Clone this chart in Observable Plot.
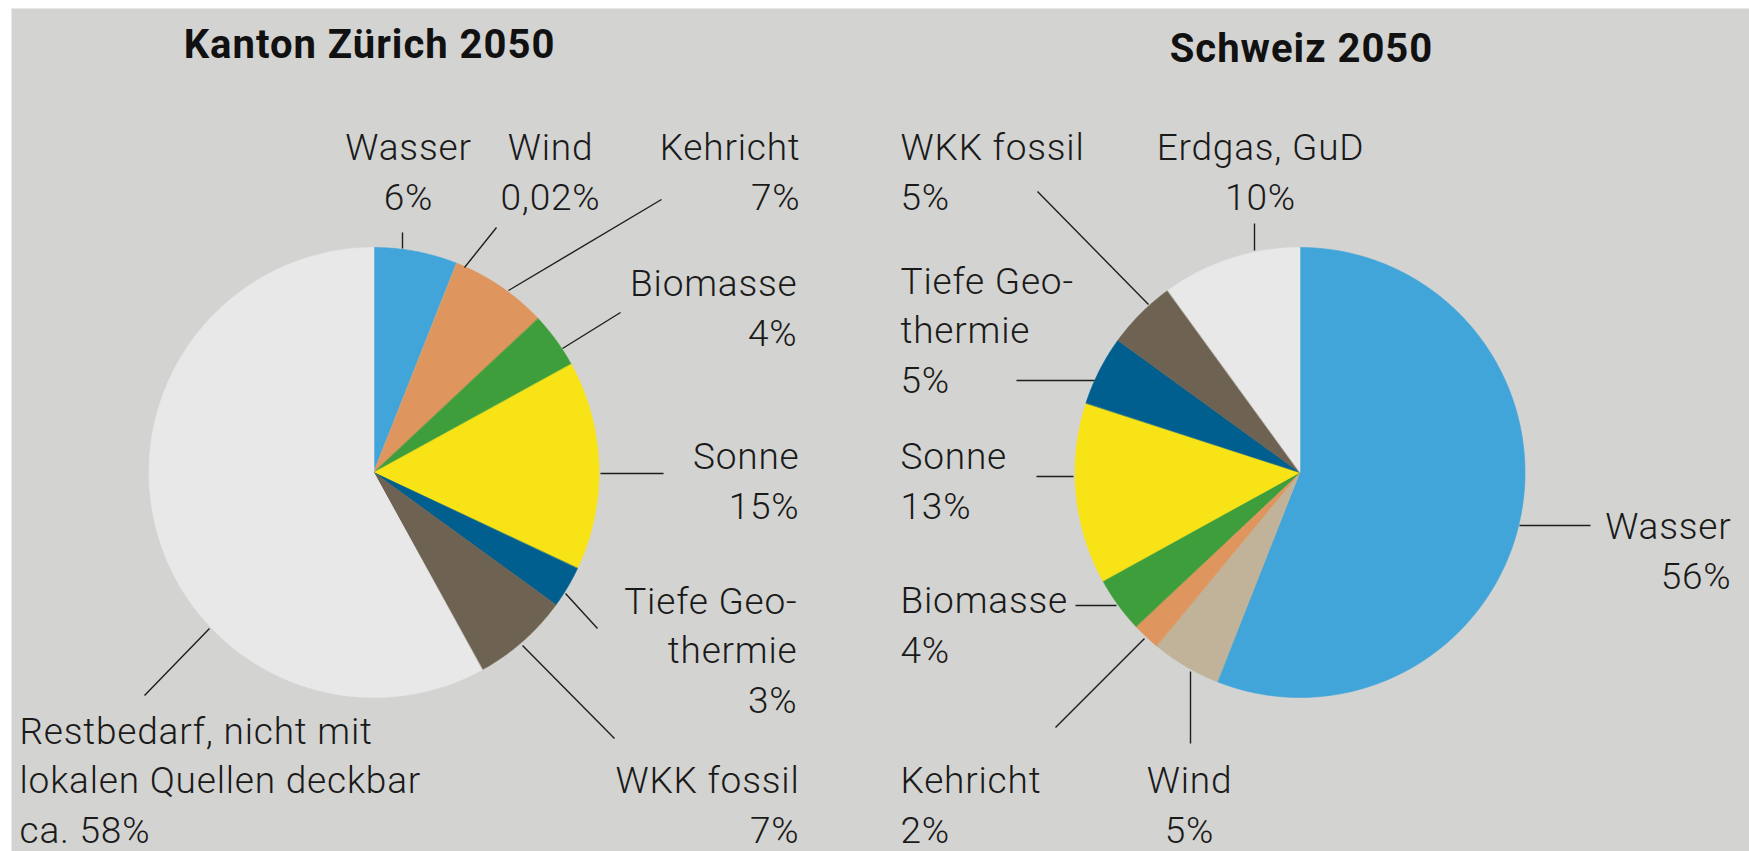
<!DOCTYPE html>
<html>
<head>
<meta charset="utf-8">
<script src="https://cdn.jsdelivr.net/npm/d3@7"></script>
<script src="https://cdn.jsdelivr.net/npm/@observablehq/plot@0.6"></script>
<style>
  html, body { margin: 0; padding: 0; background: #ffffff; }
  #chart svg { display: block; }
</style>
</head>
<body>
<div id="chart"></div>
<script>
// ---------- DATA ----------
const chartTitles = ["Kanton Zürich 2050", "Schweiz 2050"];

// Kanton Zürich 2050 (clockwise from 12 o'clock)
const zhSources = ["Wasser", "Wind", "Kehricht", "Biomasse", "Sonne", "Tiefe Geothermie", "WKK fossil", "Restbedarf"];
const zhValues  = [6, 0.02, 7, 4, 15, 3, 7, 58];
const zhNames   = ["Wasser", "Wind", "Kehricht", "Biomasse", "Sonne", "Tiefe Geo-\nthermie", "WKK fossil", "Restbedarf, nicht mit\nlokalen Quellen deckbar"];
const zhPrefix  = ["", "", "", "", "", "", "", "ca. "];

// Schweiz 2050 (clockwise from 12 o'clock)
const chSources = ["Wasser", "Wind", "Kehricht", "Biomasse", "Sonne", "Tiefe Geothermie", "WKK fossil", "Erdgas, GuD"];
const chValues  = [56, 5, 2, 4, 13, 5, 5, 10];
const chNames   = ["Wasser", "Wind", "Kehricht", "Biomasse", "Sonne", "Tiefe Geo-\nthermie", "WKK fossil", "Erdgas, GuD"];
const chPrefix  = ["", "", "", "", "", "", "", ""];

// colour per energy source
const colorDomain = ["Wasser", "Wind", "Kehricht", "Biomasse", "Sonne", "Tiefe Geothermie", "WKK fossil", "Restbedarf", "Erdgas, GuD"];
const colorRange  = ["#41a5da", "#c1b399", "#df965e", "#3d9e3b", "#f8e317", "#005f8f", "#6e6352", "#e8e8e8", "#e8e8e8"];

// ---------- LAYOUT (positions, in the chart's pixel-unit scale) ----------
const W = 1749, H = 851;
const pies = [
  {cx: 374, cy: 472.5, r: 225, titleX: 369, titleY: 57},
  {cx: 1300, cy: 472.5, r: 225, titleX: 1301, titleY: 61}
];
// label anchor, label x, baseline of last line, leader [x1,y1,x2,y2]
const zhLayout = [
  {anchor: "middle", x: 408, y: 209, leader: [402, 232, 402, 248]},
  {anchor: "middle", x: 550, y: 209, leader: [496, 227, 464, 267]},
  {anchor: "end",    x: 800, y: 209, leader: [661, 199, 508, 290]},
  {anchor: "end",    x: 797, y: 345, leader: [620, 312, 562, 348]},
  {anchor: "end",    x: 799, y: 518, leader: [600, 473, 663, 473]},
  {anchor: "end",    x: 797, y: 712, leader: [565, 593, 597, 628]},
  {anchor: "end",    x: 799, y: 842, leader: [522, 645, 614, 738]},
  {anchor: "start",  x: 19,  y: 842, leader: [209, 628, 144, 695]}
];
const chLayout = [
  {anchor: "end",    x: 1731, y: 588, leader: [1519, 525, 1590, 525]},
  {anchor: "middle", x: 1189, y: 842, leader: [1190, 671, 1190, 743]},
  {anchor: "start",  x: 900,  y: 842, leader: [1144, 638, 1055, 727]},
  {anchor: "start",  x: 900,  y: 662, leader: [1075, 605, 1116, 605]},
  {anchor: "start",  x: 900,  y: 518, leader: [1036, 476, 1073, 476]},
  {anchor: "start",  x: 900,  y: 392, leader: [1016, 380, 1094, 380]},
  {anchor: "start",  x: 900,  y: 209, leader: [1037, 191, 1148, 304]},
  {anchor: "middle", x: 1260, y: 209, leader: [1254, 223, 1254, 250]}
];

// ---------- BUILD TABLES ----------
const fmtPct = v => String(v).replace(".", ",") + "%";

function wedgeRows(pieId, sources, values, pie) {
  const total = d3.sum(values);
  const rows = [];
  let acc = 0;
  sources.forEach((s, i) => {
    const a0 = acc / total * 2 * Math.PI;
    acc += values[i];
    const a1 = acc / total * 2 * Math.PI;
    const n = Math.max(2, Math.ceil((a1 - a0) / (Math.PI / 360)));
    for (let k = 0; k <= n; k++) {
      const a = a0 + (a1 - a0) * k / n;
      rows.push({key: pieId + "-" + i, source: s, cx: pie.cx, cy: pie.cy,
                 x: pie.cx + pie.r * Math.sin(a), y: pie.cy - pie.r * Math.cos(a)});
    }
  });
  return rows;
}
function labelRows(names, prefix, values, layout) {
  return names.map((nm, i) => ({
    text: nm + "\n" + prefix[i] + fmtPct(values[i]),
    anchor: layout[i].anchor, x: layout[i].x, y: layout[i].y,
    x1: layout[i].leader[0], y1: layout[i].leader[1], x2: layout[i].leader[2], y2: layout[i].leader[3]
  }));
}

const slices = [...wedgeRows("zh", zhSources, zhValues, pies[0]), ...wedgeRows("ch", chSources, chValues, pies[1])];
const labels = [...labelRows(zhNames, zhPrefix, zhValues, zhLayout), ...labelRows(chNames, chPrefix, chValues, chLayout)];
const titles = chartTitles.map((t, i) => ({text: t, x: pies[i].titleX, y: pies[i].titleY}));

const FONT = "Roboto, 'Open Sans', sans-serif";
const LABEL_SIZE = 37;
const TITLE_SIZE = 40;
const textMark = anchor => Plot.text(labels.filter(d => d.anchor === anchor), {
  x: "x", y: "y", text: "text", textAnchor: anchor, lineAnchor: "bottom",
  lineHeight: 49.5 / LABEL_SIZE, fontSize: LABEL_SIZE, fontWeight: 300, fontFamily: FONT, fill: "#1a1a1a"
});

const chart = Plot.plot({
  width: W, height: H,
  marginLeft: 11, marginTop: 8, marginRight: 0, marginBottom: 0,
  x: {domain: [0, W], range: [0, W], axis: null},
  y: {domain: [0, H], range: [0, H], axis: null},
  color: {domain: colorDomain, range: colorRange},
  style: {background: "#ffffff", overflow: "visible"},
  marks: [
    Plot.frame({fill: "#d3d3d1", stroke: null}),
    Plot.area(slices, {x1: "cx", y1: "cy", x2: "x", y2: "y", z: "key", fill: "source", stroke: "source", strokeWidth: 0.6}),
    Plot.link(labels, {x1: "x1", y1: "y1", x2: "x2", y2: "y2", stroke: "#1e1e1e", strokeWidth: 1.4}),
    textMark("start"),
    textMark("middle"),
    textMark("end"),
    Plot.text(titles, {x: "x", y: "y", text: "text", lineAnchor: "bottom", fontSize: TITLE_SIZE, fontWeight: "bold",
                       fontFamily: FONT, fill: "#111111"})
  ]
});
// letter spacing to approximate the wider original typeface
d3.select(chart).selectAll('g[aria-label="text"]').each(function () {
  const fs = +this.getAttribute("font-size");
  this.style.letterSpacing = fs >= TITLE_SIZE ? "1px" : "0.8px";
});
document.getElementById("chart").appendChild(chart);
</script>
</body>
</html>
